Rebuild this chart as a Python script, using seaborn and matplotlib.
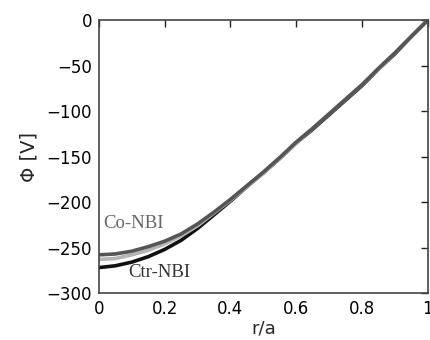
import numpy as np
import pandas as pd
import matplotlib
matplotlib.use("Agg")
import matplotlib.pyplot as plt
import seaborn as sns

# normalised radius and potential profiles
r_a = [0.0, 0.05, 0.1, 0.15, 0.2, 0.25, 0.3, 0.35, 0.4, 0.45, 0.5,
       0.55, 0.6, 0.65, 0.7, 0.75, 0.8, 0.85, 0.9, 0.95, 1.0]
phi_co = [-258, -257, -254, -249, -243, -235, -224, -211, -197, -182, -167,
          -151, -134, -119, -103, -87, -71, -53, -36, -18, 0]
phi_mid = [-263, -262, -258, -253, -246, -237, -226, -212, -198, -183, -168,
           -152, -135, -119, -103, -87, -71, -54, -36, -18, 0]
phi_ctr = [-272, -270, -266, -260, -252, -242, -229, -214, -199, -183, -168,
           -152, -135, -120, -104, -88, -72, -54, -37, -18, 0]
# drawn bottom to top: black first, dark grey ends up on top like the original
series_names = ["Ctr-NBI", "mid", "Co-NBI"]
series_colors = ["#111111", "#b5b5b5", "#555555"]

x_ticks = [0, 0.2, 0.4, 0.6, 0.8, 1.0]
x_tick_labels = ["0", "0.2", "0.4", "0.6", "0.8", "1"]
y_ticks = [0, -50, -100, -150, -200, -250, -300]

df = pd.DataFrame({
    "r": r_a * 3,
    "phi": phi_ctr + phi_mid + phi_co,
    "case": [n for n in series_names for _ in r_a],
})

sns.set_style("white")
plt.rcParams["font.family"] = ["DejaVu Sans"]

fig = plt.figure(figsize=(4.3, 3.4), dpi=100)
ax = fig.add_axes([0.230, 0.138, 0.765, 0.803])

sns.lineplot(data=df, x="r", y="phi", hue="case", hue_order=series_names,
             palette=series_colors, linewidth=2.6, legend=False, ax=ax)

ax.set_xlim(0, 1)
ax.set_ylim(-300, 0)
ax.set_xticks(x_ticks)
ax.set_xticklabels(x_tick_labels)
ax.set_yticks(y_ticks)
ax.tick_params(direction="in", length=5, width=1, top=True, right=True,
               labelsize=12, pad=5, colors="#222222", labelcolor="black")
for s in ax.spines.values():
    s.set_color("#444444")
    s.set_linewidth(1.2)

ax.set_xlabel("r/a", fontsize=13, labelpad=1)
ax.set_ylabel("Φ [V]", fontsize=14, labelpad=6)

ax.text(0.012, -224, "Co-NBI", family="Liberation Serif", fontsize=13.5,
        color="#666666", va="center")
ax.text(0.088, -277, "Ctr-NBI", family="Liberation Serif", fontsize=13.5,
        color="#333333", va="center")

fig.savefig("out.png", dpi=100)
